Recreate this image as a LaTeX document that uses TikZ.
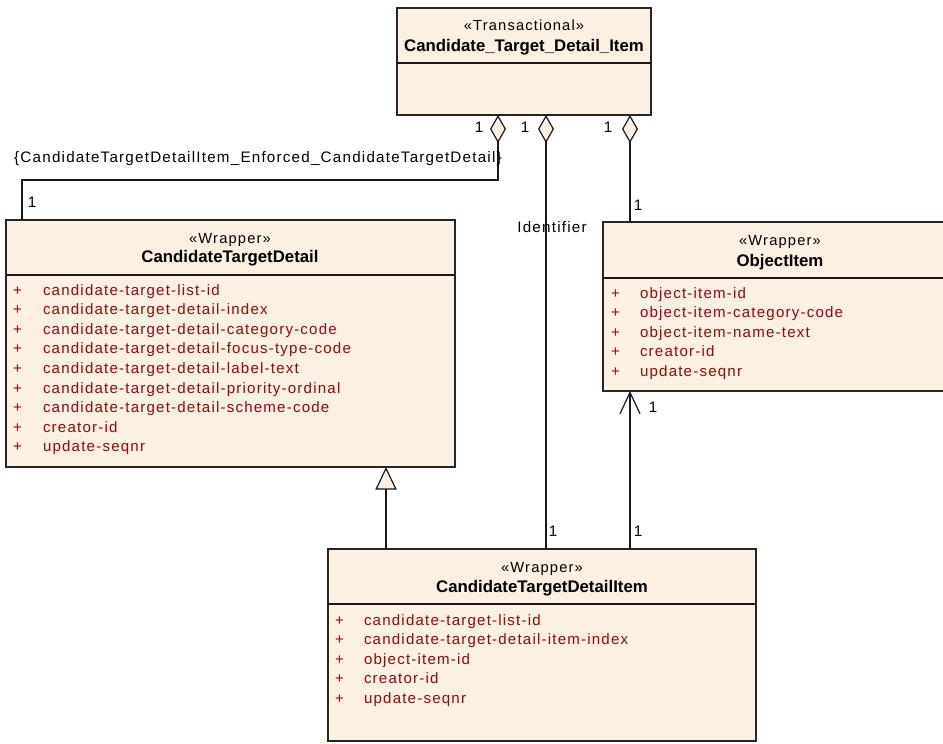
\documentclass[tikz,border=0pt]{standalone}
\usepackage{fontspec}
\setmainfont{Liberation Sans}
\newfontfamily\spacedfont[LetterSpace=8]{Liberation Sans}
\usetikzlibrary{arrows.meta,fit}
\definecolor{classfill}{RGB}{251,240,226}
\definecolor{attrred}{RGB}{150,10,10}

\begin{document}
\begin{tikzpicture}[
        x=0.75pt, y=-0.75pt,
        every node/.style={inner sep=0pt, outer sep=0pt},
        classbox/.style={draw=black!85, fill=classfill, line width=0.9pt, inner sep=0pt},
        stereo/.style={font=\spacedfont\fontsize{11}{13}\selectfont, anchor=base},
        cname/.style={font=\bfseries\fontsize{12.6}{14}\selectfont, anchor=base},
        attr/.style={font=\spacedfont\fontsize{11.3}{13}\selectfont, text=attrred, anchor=base west},
        mult/.style={font=\spacedfont\fontsize{11.4}{13}\selectfont, anchor=center},
        assoc/.style={draw=black!90, line width=0.9pt},
        agg/.style={assoc, {Diamond[fill=classfill, length=21pt, width=12pt]}-},
        nav/.style={assoc, -{Straight Barb[length=16pt, width=15pt]}},
        gen/.style={assoc, -{Triangle[fill=classfill, length=17pt, width=16pt]}}
    ]
    \clip (0,0) rectangle (943,743);

    % classes
    \node[classbox, fit={(397,8) (651,115)}] (tdi) {};
    \draw[assoc] (397,63) -- (651,63);
    \node[stereo] (tdi-st) at (524,30) {«Transactional»};
    \node[cname] (tdi-nm) at (524,51) {Candidate\_Target\_Detail\_Item};

    \node[classbox, fit={(6,220) (455,467)}] (ctd) {};
    \draw[assoc] (6,275) -- (455,275);
    \node[stereo] (ctd-st) at (230,243) {«Wrapper»};
    \node[cname] (ctd-nm) at (230,262) {CandidateTargetDetail};
    \foreach \a [count=\i from 0] in {candidate-target-list-id, candidate-target-detail-index,
        candidate-target-detail-category-code, candidate-target-detail-focus-type-code,
        candidate-target-detail-label-text, candidate-target-detail-priority-ordinal,
        candidate-target-detail-scheme-code, creator-id, update-seqnr} {
        \node[attr] (ctd-p\i) at (13,295+19.6*\i) {+};
        \node[attr] (ctd-a\i) at (43,295+19.6*\i) {\a};
    }

    \node[classbox, fit={(603,222) (957,391)}] (oi) {};
    \draw[assoc] (603,278) -- (957,278);
    \node[stereo] (oi-st) at (780,245) {«Wrapper»};
    \node[cname] (oi-nm) at (780,266) {ObjectItem};
    \foreach \a [count=\i from 0] in {object-item-id, object-item-category-code,
        object-item-name-text, creator-id, update-seqnr} {
        \node[attr] (oi-p\i) at (611,298+19.5*\i) {+};
        \node[attr] (oi-a\i) at (640,298+19.5*\i) {\a};
    }

    \node[classbox, fit={(328,549) (756,741)}] (ctdi) {};
    \draw[assoc] (328,604) -- (756,604);
    \node[stereo] (ctdi-st) at (542,572) {«Wrapper»};
    \node[cname] (ctdi-nm) at (542,592) {CandidateTargetDetailItem};
    \foreach \a [count=\i from 0] in {candidate-target-list-id, candidate-target-detail-item-index,
        object-item-id, creator-id, update-seqnr} {
        \node[attr] (ctdi-p\i) at (335,625+19.5*\i) {+};
        \node[attr] (ctdi-a\i) at (364,625+19.5*\i) {\a};
    }

    % connectors
    \draw[agg] (tdi.south -| 498,0) -- (498,180) -| (ctd.north -| 22,0);
    \draw[agg] (tdi.south -| 546,0) -- (ctdi.north -| 546,0);
    \draw[agg] (tdi.south -| 630,0) -- (oi.north -| 630,0);
    \draw[nav] (ctdi.north -| 630,0) -- (oi.south -| 630,0);
    \draw[gen] (ctdi.north -| 386,0) -- (ctd.south -| 386,0);

    % labels
    \node[mult] (c-txt) at (258,159) {\{CandidateTargetDetailItem\_Enforced\_CandidateTargetDetail\}};
    \node[mult] (id-txt) at (552,227) {Identifier};
    \node[mult] (m1) at (479,127) {1};
    \node[mult] (m2) at (32,202) {1};
    \node[mult] (m3) at (525,127) {1};
    \node[mult] (m4) at (553,531) {1};
    \node[mult] (m5) at (608,127) {1};
    \node[mult] (m6) at (638,205) {1};
    \node[mult] (m7) at (638,531) {1};
    \node[mult] (m8) at (653,407) {1};
\end{tikzpicture}
\end{document}
